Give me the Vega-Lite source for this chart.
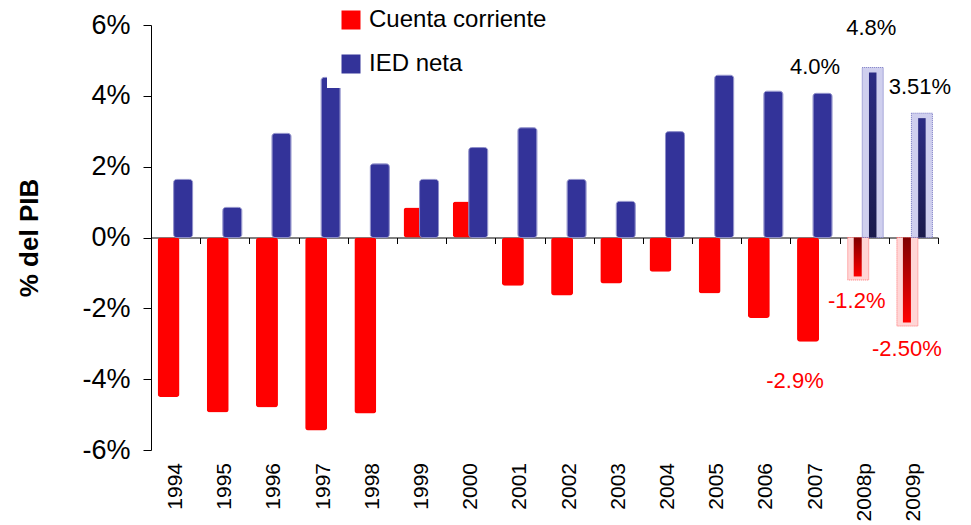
{
  "$schema": "https://vega.github.io/schema/vega-lite/v6.json",
  "autosize": {"type": "none"},
  "width": 787,
  "height": 425,
  "padding": {"left": 151, "top": 25, "right": 33, "bottom": 75},
  "background": "white",
  "config": {
    "view": {"stroke": null},
    "font": "Liberation Sans",
    "legend": {
      "orient": "none",
      "legendX": 176,
      "legendY": -29,
      "fillColor": "white",
      "padding": 12,
      "symbolType": "square",
      "symbolSize": 361,
      "symbolStrokeWidth": 0,
      "symbolOpacity": 1,
      "labelFontSize": 24,
      "labelColor": "black",
      "labelFont": "Liberation Sans",
      "rowPadding": 20,
      "labelOffset": 6,
      "labelLimit": 400
    }
  },
  "data": {
    "values": [
      {"year": "1994", "serie": "Cuenta corriente", "value": -4.5},
      {"year": "1995", "serie": "Cuenta corriente", "value": -4.94},
      {"year": "1996", "serie": "Cuenta corriente", "value": -4.8},
      {"year": "1997", "serie": "Cuenta corriente", "value": -5.45},
      {"year": "1998", "serie": "Cuenta corriente", "value": -4.97},
      {"year": "1999", "serie": "Cuenta corriente", "value": 0.85},
      {"year": "2000", "serie": "Cuenta corriente", "value": 1.02},
      {"year": "2001", "serie": "Cuenta corriente", "value": -1.36},
      {"year": "2002", "serie": "Cuenta corriente", "value": -1.64},
      {"year": "2003", "serie": "Cuenta corriente", "value": -1.3},
      {"year": "2004", "serie": "Cuenta corriente", "value": -0.97},
      {"year": "2005", "serie": "Cuenta corriente", "value": -1.58},
      {"year": "2006", "serie": "Cuenta corriente", "value": -2.27},
      {"year": "2007", "serie": "Cuenta corriente", "value": -2.94, "label": "-2.9%"},
      {"year": "2008p", "serie": "Cuenta corriente", "value": -1.2, "inner": -1.1, "label": "-1.2%"},
      {"year": "2009p", "serie": "Cuenta corriente", "value": -2.5, "inner": -2.4, "label": "-2.50%"},
      {"year": "1994", "serie": "IED neta", "value": 1.64},
      {"year": "1995", "serie": "IED neta", "value": 0.85},
      {"year": "1996", "serie": "IED neta", "value": 2.94},
      {"year": "1997", "serie": "IED neta", "value": 4.52},
      {"year": "1998", "serie": "IED neta", "value": 2.08},
      {"year": "1999", "serie": "IED neta", "value": 1.64},
      {"year": "2000", "serie": "IED neta", "value": 2.54},
      {"year": "2001", "serie": "IED neta", "value": 3.1},
      {"year": "2002", "serie": "IED neta", "value": 1.64},
      {"year": "2003", "serie": "IED neta", "value": 1.02},
      {"year": "2004", "serie": "IED neta", "value": 2.99},
      {"year": "2005", "serie": "IED neta", "value": 4.58},
      {"year": "2006", "serie": "IED neta", "value": 4.13},
      {"year": "2007", "serie": "IED neta", "value": 4.07, "label": "4.0%"},
      {"year": "2008p", "serie": "IED neta", "value": 4.8, "inner": 4.66, "label": "4.8%"},
      {"year": "2009p", "serie": "IED neta", "value": 3.51, "inner": 3.37, "label": "3.51%"}
    ]
  },
  "encoding": {
    "x": {
      "field": "year",
      "type": "nominal",
      "scale": {
        "domain": ["1994","1995","1996","1997","1998","1999","2000","2001","2002","2003","2004","2005","2006","2007","2008p","2009p"],
        "paddingInner": 0,
        "paddingOuter": 0
      },
      "axis": {
        "title": null,
        "orient": "bottom",
        "offset": -212.5,
        "domainColor": "black",
        "domainWidth": 1,
        "tickColor": "black",
        "tickSize": 6,
        "tickBand": "extent",
        "labelAngle": 270,
        "labelFontSize": 21,
        "labelColor": "black",
        "labelFont": "Liberation Sans",
        "labelPadding": 219
      }
    },
    "y": {
      "field": "value",
      "type": "quantitative",
      "scale": {"domain": [-6, 6], "nice": false},
      "axis": {
        "title": "% del PIB",
        "titleFontSize": 26,
        "titleFontWeight": "bold",
        "titleColor": "black",
        "titleFont": "Liberation Sans",
        "titlePadding": 39,
        "values": [-6, -4, -2, 0, 2, 4, 6],
        "labelExpr": "datum.value + '%'",
        "labelFontSize": 27,
        "labelColor": "black",
        "labelFont": "Liberation Sans",
        "labelPadding": 13,
        "tickSize": 8,
        "tickColor": "black",
        "domainColor": "black",
        "grid": false
      }
    }
  },
  "layer": [
    {
      "transform": [{"filter": "datum.serie == 'Cuenta corriente' && !isValid(datum.inner)"}],
      "mark": {"type": "bar", "width": 22, "xOffset": -7, "cornerRadius": 3},
      "encoding": {
        "color": {
          "field": "serie",
          "type": "nominal",
          "scale": {"domain": ["Cuenta corriente", "IED neta"], "range": ["#ff0000", "#333399"]},
          "legend": {"title": null}
        }
      }
    },
    {
      "transform": [{"filter": "datum.serie == 'IED neta' && !isValid(datum.inner)"}],
      "mark": {"type": "bar", "width": 19, "xOffset": 7.5, "cornerRadius": 3, "stroke": "#8c8cc8", "strokeWidth": 1},
      "encoding": {
        "color": {"field": "serie", "type": "nominal"}
      }
    },
    {
      "transform": [{"filter": "datum.serie == 'Cuenta corriente' && isValid(datum.inner)"}],
      "mark": {"type": "bar", "width": 21, "xOffset": -6, "fill": "#ffd6d6", "stroke": "#ff7070", "strokeWidth": 1, "strokeDash": [1, 1]}
    },
    {
      "transform": [{"filter": "datum.serie == 'IED neta' && isValid(datum.inner)"}],
      "mark": {"type": "bar", "width": 21, "xOffset": 8.5, "fill": "#cfcfee", "stroke": "#7070c0", "strokeWidth": 1, "strokeDash": [1, 1]}
    },
    {
      "transform": [{"filter": "datum.serie == 'Cuenta corriente' && isValid(datum.inner)"}],
      "mark": {
        "type": "bar", "width": 8, "xOffset": -6.5,
        "fill": {"gradient": "linear", "x1": 0, "y1": 0, "x2": 0, "y2": 1, "stops": [{"offset": 0, "color": "#800000"}, {"offset": 1, "color": "#ff0000"}]}
      },
      "encoding": {"y": {"field": "inner", "type": "quantitative"}}
    },
    {
      "transform": [{"filter": "datum.serie == 'IED neta' && isValid(datum.inner)"}],
      "mark": {
        "type": "bar", "width": 7.5, "xOffset": 8.5,
        "fill": {"gradient": "linear", "x1": 0, "y1": 0, "x2": 0, "y2": 1, "stops": [{"offset": 0, "color": "#2c2c84"}, {"offset": 1, "color": "#1a1a4c"}]}
      },
      "encoding": {"y": {"field": "inner", "type": "quantitative"}}
    },
    {
      "transform": [{"filter": "datum.label == '4.0%'"}],
      "mark": {"type": "text", "fontSize": 22, "color": "black", "baseline": "middle", "dy": -26, "dx": 0},
      "encoding": {"text": {"field": "label"}}
    },
    {
      "transform": [{"filter": "datum.label == '4.8%'"}],
      "mark": {"type": "text", "fontSize": 22, "color": "black", "baseline": "middle", "dy": -40, "dx": 7},
      "encoding": {"text": {"field": "label"}}
    },
    {
      "transform": [{"filter": "datum.label == '3.51%'"}],
      "mark": {"type": "text", "fontSize": 22, "color": "black", "baseline": "middle", "dy": -26, "dx": 6.5},
      "encoding": {"text": {"field": "label"}}
    },
    {
      "transform": [{"filter": "datum.label == '-1.2%'"}],
      "mark": {"type": "text", "fontSize": 22, "color": "#ff0000", "baseline": "middle", "dy": 21, "dx": -7.5},
      "encoding": {"text": {"field": "label"}}
    },
    {
      "transform": [{"filter": "datum.label == '-2.50%'"}],
      "mark": {"type": "text", "fontSize": 22, "color": "#ff0000", "baseline": "middle", "dy": 23, "dx": -6.5},
      "encoding": {"text": {"field": "label"}}
    },
    {
      "transform": [{"filter": "datum.label == '-2.9%'"}],
      "mark": {"type": "text", "fontSize": 22, "color": "#ff0000", "baseline": "middle", "dy": 39.5, "dx": -20},
      "encoding": {"text": {"field": "label"}}
    }
  ]
}
